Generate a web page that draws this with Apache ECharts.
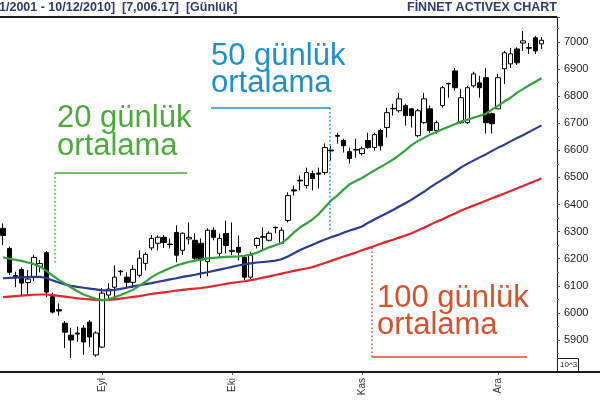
<!DOCTYPE html>
<html>
<head>
<meta charset="utf-8">
<script src="https://cdn.jsdelivr.net/npm/echarts@6/dist/echarts.min.js"></script>
<style>
  html, body { margin: 0; padding: 0; background: #fff; }
  #chart { width: 600px; height: 403px; }
</style>
</head>
<body>
<div id="chart"></div>
<script>
// Trading days (dd.mm, 2010), two empty slots at the end
const dates = [
  '10.08','11.08','12.08','13.08','16.08','17.08','18.08','19.08','20.08','23.08','24.08','25.08','26.08','27.08','30.08','31.08',
  '01.09','02.09','03.09','06.09','07.09','08.09','09.09','13.09','14.09','15.09','16.09','17.09','20.09','21.09','22.09','23.09','24.09','27.09','28.09','29.09','30.09',
  '01.10','04.10','05.10','06.10','07.10','08.10','11.10','12.10','13.10','14.10','15.10','18.10','19.10','20.10','21.10','22.10','25.10','26.10','27.10','28.10','29.10',
  '01.11','02.11','03.11','04.11','05.11','08.11','09.11','10.11','11.11','12.11','15.11','16.11','17.11','18.11','19.11','22.11','23.11','24.11','25.11','26.11','29.11','30.11',
  '01.12','02.12','03.12','06.12','07.12','08.12','09.12','10.12',
  '13.12','14.12'
];

// Month tick labels
const monthLabels = { '09': 'Eyl', '10': 'Eki', '11': 'Kas', '12': 'Ara' };

// Price axis labels
const priceTicks = [5900, 6000, 6100, 6200, 6300, 6400, 6500, 6600, 6700, 6800, 6900, 7000];

// Daily bars: [open, close, low, high]
const ohlc = [
  [6312, 6286, 6250, 6330], [6238, 6150, 6140, 6245], [6138, 6134, 6095, 6152], [6160, 6110, 6065, 6168],
  [6112, 6125, 6068, 6158], [6132, 6205, 6118, 6215], [6172, 6182, 6150, 6195], [6222, 6077, 6058, 6228],
  [6060, 6003, 5998, 6075], [6012, 6007, 5990, 6035], [5962, 5929, 5870, 5970], [5918, 5900, 5834, 5945],
  [5926, 5922, 5893, 5950], [5944, 5893, 5845, 5955], [5966, 5911, 5874, 5973], [5845, 5926, 5838, 5932],
  [5874, 6073, 5870, 6092], [6066, 6088, 6050, 6110], [6095, 6132, 6047, 6176], [6152, 6154, 6138, 6158],
  [6132, 6113, 6092, 6150], [6113, 6161, 6092, 6176], [6139, 6202, 6132, 6231], [6183, 6216, 6157, 6224],
  [6240, 6275, 6231, 6288], [6257, 6279, 6231, 6286], [6279, 6260, 6240, 6288], [6254, 6252, 6238, 6275],
  [6297, 6213, 6187, 6323], [6231, 6294, 6213, 6297], [6273, 6279, 6253, 6334], [6268, 6202, 6195, 6294],
  [6257, 6195, 6128, 6275], [6190, 6305, 6135, 6312], [6305, 6279, 6268, 6316], [6220, 6275, 6205, 6293],
  [6293, 6249, 6220, 6341], [6227, 6231, 6213, 6334], [6242, 6224, 6194, 6286], [6205, 6132, 6121, 6213],
  [6132, 6213, 6121, 6224], [6249, 6275, 6238, 6279], [6281, 6279, 6231, 6316], [6268, 6294, 6264, 6301],
  [6316, 6314, 6294, 6318], [6257, 6305, 6257, 6316], [6341, 6433, 6334, 6445], [6454, 6450, 6433, 6470],
  [6490, 6487, 6452, 6507], [6470, 6518, 6459, 6536], [6514, 6496, 6452, 6525], [6516, 6512, 6459, 6536],
  [6518, 6610, 6510, 6625], [6601, 6598, 6562, 6617], [6655, 6652, 6625, 6665], [6636, 6617, 6592, 6643],
  [6595, 6570, 6551, 6610], [6603, 6601, 6573, 6643], [6588, 6606, 6581, 6614], [6636, 6610, 6606, 6665],
  [6610, 6658, 6599, 6665], [6673, 6617, 6599, 6680], [6684, 6739, 6647, 6757], [6755, 6753, 6728, 6772],
  [6746, 6790, 6739, 6812], [6765, 6728, 6691, 6772], [6753, 6728, 6684, 6755], [6654, 6746, 6647, 6753],
  [6702, 6790, 6698, 6812], [6753, 6673, 6665, 6765], [6673, 6702, 6662, 6710], [6765, 6831, 6757, 6838],
  [6847, 6845, 6794, 6850], [6893, 6831, 6820, 6904], [6702, 6794, 6698, 6827], [6702, 6831, 6698, 6838],
  [6838, 6882, 6831, 6890], [6849, 6831, 6794, 6875], [6868, 6702, 6662, 6904], [6735, 6698, 6662, 6739],
  [6753, 6868, 6753, 6882], [6901, 6960, 6845, 6967], [6919, 6956, 6904, 6978], [6974, 6923, 6915, 6980],
  [6996, 7004, 6967, 7040], [6979, 6977, 6956, 6996], [7015, 6967, 6956, 7022], [6993, 7006.17, 6974, 7018]
];

// 20-day moving average
const ma20 = [
  6205, 6200, 6196, 6192, 6186, 6180, 6170, 6155, 6138, 6122, 6108, 6094, 6080, 6068, 6060, 6052, 6047,
  6050, 6058, 6066, 6075, 6086, 6100, 6115, 6132, 6145, 6156, 6166, 6175, 6182, 6188, 6193, 6197, 6201,
  6203, 6205, 6207, 6208, 6209, 6211, 6215, 6222, 6232, 6242, 6250,
  6258, 6275, 6297, 6316, 6330, 6345, 6365, 6390, 6415,
  6433, 6455, 6475, 6487, 6498, 6512, 6526, 6539, 6552, 6566, 6582, 6600, 6619, 6634, 6646, 6658, 6668,
  6678, 6687, 6696, 6706, 6713, 6720, 6727, 6735, 6750, 6765, 6780, 6794, 6812, 6826, 6840, 6853, 6866
];

// 50-day moving average
const ma50 = [
  6128, 6129, 6130, 6131, 6132, 6133, 6133, 6129, 6120, 6112, 6105, 6100, 6096, 6093, 6090, 6087, 6083,
  6083, 6085, 6089, 6093, 6098, 6102, 6106, 6110, 6115, 6119, 6124, 6128, 6133, 6137, 6141, 6146, 6150,
  6155, 6160, 6165, 6170, 6175, 6179, 6183, 6186, 6188, 6190, 6193, 6198, 6208, 6220, 6232, 6242, 6252,
  6262, 6271, 6279, 6287, 6296, 6304, 6311, 6319,
  6333, 6345, 6357, 6368, 6380, 6393, 6405, 6418, 6433, 6447, 6463, 6478, 6492, 6506, 6521, 6537, 6550,
  6562, 6574, 6585, 6598, 6610, 6621, 6633, 6645, 6656, 6668, 6680, 6692
];

// 100-day moving average
const ma100 = [
  6058, 6060, 6062, 6064, 6066, 6067, 6068, 6068, 6066, 6063, 6060, 6057, 6054, 6052, 6050, 6048, 6047,
  6048, 6050, 6053, 6056, 6059, 6062, 6066, 6070, 6073, 6076, 6079, 6082, 6085, 6088, 6090, 6092, 6095,
  6099, 6103, 6107, 6111, 6114, 6117, 6121,
  6125, 6130, 6135, 6140, 6145, 6150, 6155, 6160, 6164, 6169,
  6177, 6184, 6192, 6200, 6208, 6215, 6223, 6231,
  6239, 6247, 6255, 6263, 6270, 6278, 6286, 6294,
  6304, 6314, 6325, 6336, 6346, 6357, 6367, 6378,
  6387, 6396, 6405, 6414, 6423, 6432, 6441, 6450, 6459, 6468, 6478, 6487, 6496
];

const FONT = '"Liberation Sans", Arial, sans-serif';
const INK = '#1a1a1a';
const C_GREEN = '#4caa3a', C_BLUE = '#1f8fcc', C_RED = '#d8502c';
const CALLOUT_FONT = '31px ' + FONT;

function isMonthStart(i) {
  if (i === 0) return false;
  const m = dates[i].slice(3), p = dates[i - 1].slice(3);
  return m !== p && monthLabels[m] !== undefined;
}

const chart = echarts.init(document.getElementById('chart'), null, { renderer: 'canvas' });

chart.setOption({
  animation: false,
  backgroundColor: '#fff',
  grid: { left: -2, right: 43, top: 17, bottom: 31 },
  xAxis: {
    type: 'category',
    data: dates,
    boundaryGap: true,
    axisLine: { show: false },
    axisTick: {
      show: true, alignWithLabel: true, length: 3,
      interval: (i) => isMonthStart(i),
      lineStyle: { color: '#666' }
    },
    axisLabel: {
      interval: (i) => isMonthStart(i),
      formatter: (v) => monthLabels[v.slice(3)] || '',
      rotate: 90,
      margin: 6,
      fontFamily: FONT,
      fontSize: 10,
      color: '#333'
    },
    splitLine: { show: false }
  },
  yAxis: {
    type: 'value',
    position: 'right',
    min: 5782,
    max: 7092,
    splitNumber: 13,
    scale: true,
    axisLine: { show: true, lineStyle: { color: INK, width: 1 } },
    axisTick: { show: true, length: 3, lineStyle: { color: '#555' } },
    minorTick: { show: true, splitNumber: 2, length: 2, lineStyle: { color: '#777' } },
    axisLabel: {
      showMinLabel: false, showMaxLabel: false,
      margin: 7,
      fontFamily: FONT,
      fontSize: 11,
      color: INK,
      formatter: (v) => priceTicks.indexOf(v) >= 0 ? String(v) : ''
    },
    splitLine: { show: false }
  },
  series: [
    {
      type: 'candlestick',
      data: ohlc,
      barWidth: 5,
      z: 2,
      itemStyle: {
        color: '#ffffff', color0: '#000000',
        borderColor: '#000000', borderColor0: '#000000',
        borderWidth: 1
      }
    },
    {
      type: 'line', data: ma100, symbol: 'none', z: 3,
      lineStyle: { color: '#e0262c', width: 2.2 }
    },
    {
      type: 'line', data: ma50, symbol: 'none', z: 3,
      lineStyle: { color: '#283c90', width: 2.2 }
    },
    {
      type: 'line', data: ma20, symbol: 'none', z: 3,
      lineStyle: { color: '#34a03c', width: 2.2 }
    }
  ],
  graphic: [
    // frame
    { type: 'line', shape: { x1: 0, y1: 17, x2: 557, y2: 17 }, style: { stroke: INK, lineWidth: 2 }, z: 10 },
    { type: 'line', shape: { x1: 0, y1: 372, x2: 600, y2: 372 }, style: { stroke: INK, lineWidth: 2 }, z: 10 },
    // header texts
    { type: 'text', x: -1, y: 8, z: 10,
      style: { text: '1/2001 - 10/12/2010]  [7,006.17]  [Günlük]', font: 'bold 12.5px ' + FONT, fill: '#2c3a6c', verticalAlign: 'middle' } },
    { type: 'text', x: 557, y: 8, z: 10,
      style: { text: 'FİNNET ACTIVEX CHART', font: 'bold 12.5px ' + FONT, fill: '#2c3a6c', align: 'right', verticalAlign: 'middle' } },
    // scale box
    { type: 'rect', shape: { x: 557.5, y: 358.5, width: 21, height: 13 }, style: { fill: '#fff', stroke: INK, lineWidth: 1 }, z: 10 },
    { type: 'text', x: 560, y: 365, z: 11,
      style: { text: '10^3', font: '8px ' + FONT, fill: INK, verticalAlign: 'middle' } },

    // 50-day callout
    { type: 'text', x: 211, y: 43, z: 12,
      style: { text: '50 günlük\nortalama', font: CALLOUT_FONT, fill: C_BLUE, lineHeight: 27 } },
    { type: 'line', shape: { x1: 211, y1: 108, x2: 330, y2: 108 }, style: { stroke: C_BLUE, lineWidth: 1.5 }, z: 12 },
    { type: 'line', shape: { x1: 330, y1: 108, x2: 330, y2: 230 }, style: { stroke: C_BLUE, lineWidth: 1.5, lineDash: [1.5, 2.5] }, z: 12 },

    // 20-day callout
    { type: 'text', x: 57, y: 104, z: 12,
      style: { text: '20 günlük\nortalama', font: CALLOUT_FONT, fill: C_GREEN, lineHeight: 28 } },
    { type: 'line', shape: { x1: 55, y1: 173, x2: 187, y2: 173 }, style: { stroke: C_GREEN, lineWidth: 1.5 }, z: 12 },
    { type: 'line', shape: { x1: 55, y1: 173, x2: 55, y2: 264 }, style: { stroke: C_GREEN, lineWidth: 1.5, lineDash: [1.5, 2.5] }, z: 12 },

    // 100-day callout
    { type: 'text', x: 377, y: 285, z: 12,
      style: { text: '100 günlük\nortalama', font: CALLOUT_FONT, fill: C_RED, lineHeight: 27 } },
    { type: 'line', shape: { x1: 372, y1: 357, x2: 527, y2: 357 }, style: { stroke: '#e0442c', lineWidth: 1.5 }, z: 12 },
    { type: 'line', shape: { x1: 372, y1: 357, x2: 372, y2: 247 }, style: { stroke: '#e0442c', lineWidth: 1.5, lineDash: [1.5, 2.5] }, z: 12 }
  ]
});
</script>
</body>
</html>
